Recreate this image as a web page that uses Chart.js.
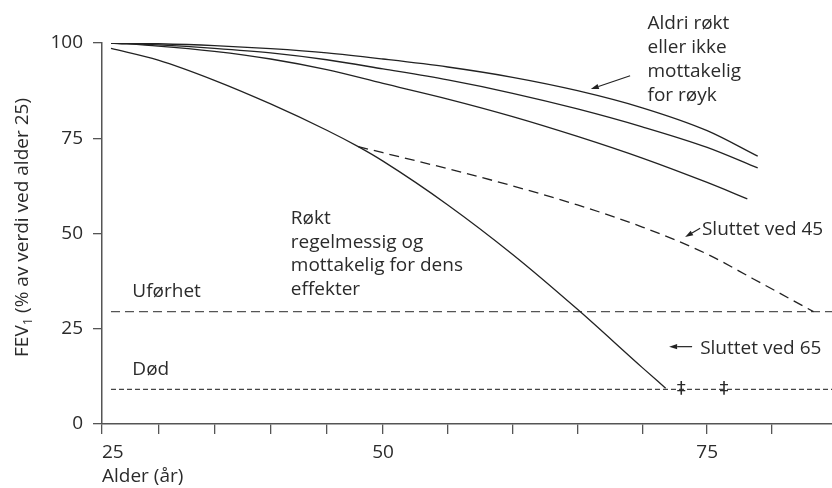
<!DOCTYPE html>
<html>
<head>
<meta charset="utf-8">
<title>FEV1 og alder</title>
<script src="https://cdn.jsdelivr.net/npm/chart.js@4.4.1/dist/chart.umd.min.js"></script>
<style>
  body { margin: 0; background: #fff; }
  #wrap { width: 832px; height: 488px; position: relative; }
</style>
</head>
<body>
<div id="wrap"><canvas id="fevChart"></canvas></div>
<script>
// ages (x) and FEV1 in % of value at age 25 (y)
var neverAges = [25.8, 30, 35, 40, 45, 50, 55, 60, 65, 70, 75, 78.9];
var neverFev = [100, 99.8, 99.3, 98.5, 97.4, 95.8, 93.7, 91.0, 87.5, 83.0, 77.0, 70.3];

var middleAges = [25.8, 30, 35, 40, 45, 50, 55, 60, 65, 70, 75, 78.9];
var middleFev = [100, 99.5, 98.6, 97.4, 95.6, 93.2, 90.3, 86.8, 82.7, 78.0, 72.6, 67.2];

var lowerAges = [25.8, 30, 35, 40, 45, 50, 55, 60, 65, 70, 75, 78.1];
var lowerFev = [100, 99.2, 97.8, 95.8, 93.0, 89.4, 85.3, 80.7, 75.5, 69.8, 63.4, 59.1];

var smokerAges = [25.8, 30, 35, 40, 45, 47.8, 50, 55, 60, 65, 70, 71.8];
var smokerFev = [98.6, 95.5, 90.2, 84.0, 77.1, 72.8, 69.0, 57.5, 44.5, 30.1, 14.8, 9.4];

var quit45Ages = [47.8, 50, 55, 60, 65, 70, 75, 78.5, 83.2];
var quit45Fev = [72.8, 71.2, 67.0, 62.5, 57.5, 51.7, 44.6, 38.2, 29.5];

var limitAges = [25.8, 84.63];
var disabilityFev = [29.5, 29.5];
var deathFev = [9.1, 9.1];

var daggerAges = [73.0, 76.3];
var daggerFev = [9.2, 9.2];

var xLabels = [25, 50, 75];
var yTicks = [0, 25, 50, 75, 100];

// the printed x axis is wider per year after 50 than before it
var STRETCH = 1.1536;
function warp(v) {
    return v <= 50 ? v : 50 + (v - 50) * STRETCH;
}
function unwarp(w) {
    return w <= 50 ? w : 50 + (w - 50) / STRETCH;
}

class AgeScale extends Chart.LinearScale {
    getPixelForValue(value) {
        if (value === null || value === undefined) return NaN;
        var lo = warp(this.min), hi = warp(this.max);
        return this.getPixelForDecimal((warp(value) - lo) / (hi - lo));
    }
    getValueForPixel(pixel) {
        var lo = warp(this.min), hi = warp(this.max);
        return unwarp(lo + this.getDecimalForPixel(pixel) * (hi - lo));
    }
}
AgeScale.id = 'ageScale';
Chart.register(AgeScale);

function pts(xs, ys) {
    var out = [];
    for (var i = 0; i < xs.length; i++) {
        out.push({ x: xs[i], y: ys[i] });
    }
    return out;
}

var INK = "#2b2b2b";
var AXIS = "#555555";
var FONT = "19px 'Open Sans', 'DejaVu Sans', sans-serif";

function curve(xs, ys, dash, color, width) {
    return {
        data: pts(xs, ys),
        borderColor: color || "#222222",
        borderWidth: width || 1.3,
        borderDash: dash || [],
        pointRadius: 0,
        fill: false,
        cubicInterpolationMode: "monotone"
    };
}

/* text and arrows placed in data coordinates */
var notes = [
    { lines: ["Aldri røkt", "eller ikke", "mottakelig", "for røyk"], x: 70.4, y: 105.2, lh: 24 },
    { lines: ["Røkt", "regelmessig og", "mottakelig for dens", "effekter"], x: 41.8, y: 53.8, lh: 23.5 },
    { lines: ["Sluttet ved 45"], x: 74.6, y: 50.9, lh: 24 },
    { lines: ["Sluttet ved 65"], x: 74.46, y: 19.9, lh: 24 },
    { lines: ["Uførhet"], x: 27.7, y: 34.7, lh: 24 },
    { lines: ["Død"], x: 27.7, y: 14.2, lh: 24 }
];
var arrows = [
    { from: [69.06, 91.4], to: [66.03, 87.9] },
    { from: [74.46, 51.4], to: [73.3, 49.1] },
    { from: [73.84, 20.3], to: [72.07, 20.3] }
];

var notePlugin = {
    id: "notes",
    afterDraw: function(chart) {
        var ctx = chart.ctx;
        var xs = chart.scales.x, ys = chart.scales.y;
        ctx.save();
        ctx.fillStyle = INK;
        ctx.font = FONT;
        ctx.textAlign = "left";
        ctx.textBaseline = "middle";
        notes.forEach(function(n) {
            var px = xs.getPixelForValue(n.x);
            var py = ys.getPixelForValue(n.y);
            n.lines.forEach(function(t, i) {
                ctx.fillText(t, px, py + i * n.lh);
            });
        });

        // double daggers on the death line
        ctx.textAlign = "center";
        ctx.font = "18px 'DejaVu Sans', sans-serif";
        for (var i = 0; i < daggerAges.length; i++) {
            ctx.fillText("\u2021", xs.getPixelForValue(daggerAges[i]), ys.getPixelForValue(daggerFev[i]));
        }

        // arrows
        ctx.strokeStyle = "#222222";
        ctx.fillStyle = "#222222";
        ctx.lineWidth = 1.2;
        arrows.forEach(function(a) {
            var x1 = xs.getPixelForValue(a.from[0]), y1 = ys.getPixelForValue(a.from[1]);
            var x2 = xs.getPixelForValue(a.to[0]), y2 = ys.getPixelForValue(a.to[1]);
            var ang = Math.atan2(y2 - y1, x2 - x1);
            var len = 8, half = 2.6;
            var bx = x2 - len * Math.cos(ang), by = y2 - len * Math.sin(ang);
            ctx.beginPath();
            ctx.moveTo(x1, y1);
            ctx.lineTo(bx, by);
            ctx.stroke();
            ctx.beginPath();
            ctx.moveTo(x2, y2);
            ctx.lineTo(bx + half * Math.sin(ang), by - half * Math.cos(ang));
            ctx.lineTo(bx - half * Math.sin(ang), by + half * Math.cos(ang));
            ctx.closePath();
            ctx.fill();
        });

        // y axis title with subscript 1
        var cy = (chart.chartArea.top + chart.chartArea.bottom) / 2 - 6;
        ctx.translate(23, cy);
        ctx.rotate(-Math.PI / 2);
        ctx.fillStyle = INK;
        ctx.textAlign = "left";
        ctx.textBaseline = "middle";
        var small = "13px 'Open Sans', 'DejaVu Sans', sans-serif";
        var p1 = "FEV", p2 = "1", p3 = " (% av verdi ved alder 25)";
        ctx.font = FONT;
        var w1 = ctx.measureText(p1).width, w3 = ctx.measureText(p3).width;
        ctx.font = small;
        var w2 = ctx.measureText(p2).width;
        var x0 = -(w1 + w2 + w3) / 2;
        ctx.font = FONT;
        ctx.fillText(p1, x0, 0);
        ctx.font = small;
        ctx.fillText(p2, x0 + w1, 5);
        ctx.font = FONT;
        ctx.fillText(p3, x0 + w1 + w2, 0);
        ctx.restore();
    }
};

Chart.defaults.font.family = "'Open Sans', 'DejaVu Sans', sans-serif";
Chart.defaults.font.size = 19;
Chart.defaults.color = INK;

var ctx0 = document.getElementById("fevChart");
var myChart = new Chart(ctx0, {
    type: "line",
    data: {
        datasets: [
            curve(neverAges, neverFev),
            curve(middleAges, middleFev),
            curve(lowerAges, lowerFev),
            curve(smokerAges, smokerFev),
            curve(quit45Ages, quit45Fev, [10, 6]),
            curve(limitAges, disabilityFev, [9, 5], AXIS, 1.4),
            curve(limitAges, deathFev, [5, 3], "#444444", 1.1)
        ]
    },
    options: {
        responsive: true,
        maintainAspectRatio: false,
        animation: false,
        layout: { padding: { top: 43, right: 0, bottom: 0, left: 0 } },
        plugins: {
            legend: { display: false },
            tooltip: { enabled: false }
        },
        scales: {
            x: {
                type: "ageScale",
                min: 25,
                max: 84.63,
                afterFit: function(scale) { scale.height = 64; },
                ticks: {
                    stepSize: 5,
                    includeBounds: false,
                    autoSkip: false,
                    maxRotation: 0,
                    align: "inner",
                    padding: 7,
                    color: INK,
                    callback: function(value) {
                        return xLabels.indexOf(value) >= 0 ? String(value) : "";
                    }
                },
                grid: { drawOnChartArea: false, drawTicks: true, tickLength: 10, color: AXIS, lineWidth: 1.3 },
                border: { display: true, color: AXIS, width: 1.5 },
                title: { display: true, text: "Alder (år)", align: "start", color: INK, padding: { top: 0, bottom: 0 } }
            },
            y: {
                type: "linear",
                min: 0,
                max: 100,
                afterFit: function(scale) { scale.width = 102; },
                afterBuildTicks: function(scale) {
                    scale.ticks = yTicks.map(function(v) { return { value: v }; });
                },
                ticks: { padding: 10, color: INK },
                grid: { drawOnChartArea: false, drawTicks: true, tickLength: 9, color: AXIS, lineWidth: 1.3 },
                border: { display: true, color: AXIS, width: 1.5 }
            }
        }
    },
    plugins: [notePlugin]
});
</script>
</body>
</html>
